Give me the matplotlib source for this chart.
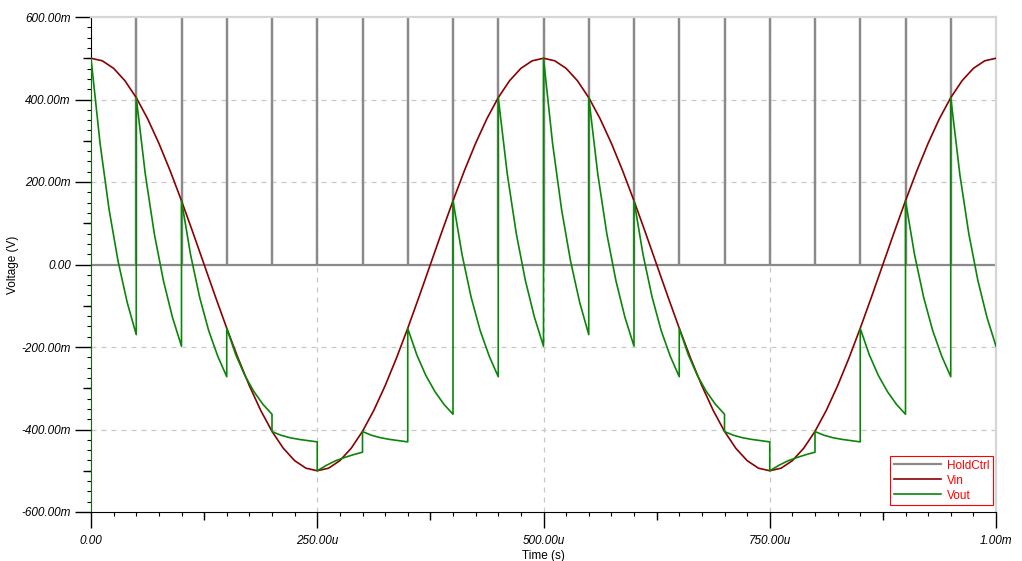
import matplotlib
import matplotlib.pyplot as plt
from matplotlib.ticker import FixedLocator

matplotlib.use("Agg")

plt.rcParams["font.family"] = ["Liberation Sans", "DejaVu Sans"]

# Input sine, sampled every 12.5 us from 0 to 1 ms (V)
vin_step = 12.5e-6
vin = [
    0.5000, 0.4938, 0.4755, 0.4455, 0.4045, 0.3536, 0.2939, 0.2270, 0.1545, 0.0782,
    0.0000, -0.0782, -0.1545, -0.2270, -0.2939, -0.3536, -0.4045, -0.4455, -0.4755, -0.4938,
    -0.5000, -0.4938, -0.4755, -0.4455, -0.4045, -0.3536, -0.2939, -0.2270, -0.1545, -0.0782,
    0.0000, 0.0782, 0.1545, 0.2270, 0.2939, 0.3536, 0.4045, 0.4455, 0.4755, 0.4938,
    0.5000, 0.4938, 0.4755, 0.4455, 0.4045, 0.3536, 0.2939, 0.2270, 0.1545, 0.0782,
    0.0000, -0.0782, -0.1545, -0.2270, -0.2939, -0.3536, -0.4045, -0.4455, -0.4755, -0.4938,
    -0.5000, -0.4938, -0.4755, -0.4455, -0.4045, -0.3536, -0.2939, -0.2270, -0.1545, -0.0782,
    0.0000, 0.0782, 0.1545, 0.2270, 0.2939, 0.3536, 0.4045, 0.4455, 0.4755, 0.4938,
    0.5000,
]

# Hold pulses (narrow, far above the plotted range)
hold_times = [50e-6 * k for k in range(1, 20)]
hold_high = 5.0

# Output: one decaying segment per 50 us hold period, points every 10 us
vout_start = -0.6
vout_period = 50e-6
vout_step = 10e-6
vout_segments = [
    [0.500, 0.294, 0.133, 0.007, -0.092, -0.170],
    [0.405, 0.219, 0.074, -0.039, -0.128, -0.198],
    [0.155, 0.024, -0.079, -0.160, -0.222, -0.272],
    [-0.155, -0.219, -0.269, -0.308, -0.339, -0.363],
    [-0.405, -0.414, -0.420, -0.424, -0.427, -0.430],
    [-0.500, -0.487, -0.476, -0.468, -0.461, -0.455],
    [-0.405, -0.414, -0.420, -0.424, -0.427, -0.430],
    [-0.155, -0.219, -0.269, -0.308, -0.339, -0.363],
    [0.155, 0.024, -0.079, -0.160, -0.222, -0.272],
    [0.405, 0.219, 0.074, -0.039, -0.128, -0.198],
    [0.500, 0.294, 0.133, 0.007, -0.092, -0.170],
    [0.405, 0.219, 0.074, -0.039, -0.128, -0.198],
    [0.155, 0.024, -0.079, -0.160, -0.222, -0.272],
    [-0.155, -0.219, -0.269, -0.308, -0.339, -0.363],
    [-0.405, -0.414, -0.420, -0.424, -0.427, -0.430],
    [-0.500, -0.487, -0.476, -0.468, -0.461, -0.455],
    [-0.405, -0.414, -0.420, -0.424, -0.427, -0.430],
    [-0.155, -0.219, -0.269, -0.308, -0.339, -0.363],
    [0.155, 0.024, -0.079, -0.160, -0.222, -0.272],
    [0.405, 0.219, 0.074, -0.039, -0.128, -0.198],
]

x_ticks = [0.0, 250e-6, 500e-6, 750e-6, 1e-3]
x_labels = ["0.00", "250.00u", "500.00u", "750.00u", "1.00m"]
y_ticks = [0.6, 0.4, 0.2, 0.0, -0.2, -0.4, -0.6]
y_labels = ["600.00m", "400.00m", "200.00m", "0.00", "-200.00m", "-400.00m", "-600.00m"]

# build plotted series
vin_t = [i * vin_step for i in range(len(vin))]

hold_t, hold_v = [0.0], [0.0]
for p in hold_times:
    hold_t += [p, p, p]
    hold_v += [0.0, hold_high, 0.0]
hold_t.append(1e-3)
hold_v.append(0.0)

vout_t, vout_v = [0.0], [vout_start]
for i, seg in enumerate(vout_segments):
    for j, v in enumerate(seg):
        vout_t.append(i * vout_period + j * vout_step)
        vout_v.append(v)

fig = plt.figure(figsize=(10.22, 5.61), dpi=100)
ax = fig.add_axes([91 / 1022, 49 / 561, 905 / 1022, 495 / 561])
ax.set_xlim(0, 1e-3)
ax.set_ylim(-0.6, 0.6)

ax.plot(hold_t, hold_v, color="#8a8a8a", linewidth=1.6, label="HoldCtrl", zorder=2)
ax.plot(vin_t, vin, color="#8b0000", linewidth=1.2, label="Vin", zorder=3)
ax.plot(vout_t, vout_v, color="#0a850a", linewidth=1.2, label="Vout", zorder=4)

# grid only on the inner major lines
for gx in x_ticks[1:-1]:
    ax.axvline(gx, color="#c8c8c8", linewidth=0.9, linestyle=(0, (4, 4)), zorder=1)
for gy in y_ticks[1:-1]:
    if gy != 0.0:
        ax.axhline(gy, color="#c8c8c8", linewidth=0.9, linestyle=(0, (4, 4)), zorder=1)

ax.set_xticks(x_ticks)
ax.set_xticklabels(x_labels, fontsize=8.5, style="italic")
ax.set_yticks(y_ticks)
ax.set_yticklabels(y_labels, fontsize=8.5, style="italic")
ax.xaxis.set_minor_locator(FixedLocator([25e-6 * k for k in range(41)]))
ax.yaxis.set_minor_locator(FixedLocator([-0.6 + 0.025 * k for k in range(49)]))
ax.tick_params(which="major", length=11.5, width=1, direction="out", pad=3)
ax.tick_params(axis="x", which="major", pad=5)
ax.tick_params(which="minor", length=3, width=0.8, direction="out")

# medium ticks at the half-way marks
secx = ax.secondary_xaxis("bottom")
secx.set_xticks([125e-6, 375e-6, 625e-6, 875e-6])
secx.set_xticklabels([])
secx.tick_params(length=6, width=1)
secx.spines["bottom"].set_visible(False)
secy = ax.secondary_yaxis("left")
secy.set_yticks([0.5, 0.3, 0.1, -0.1, -0.3, -0.5])
secy.set_yticklabels([])
secy.tick_params(length=5.5, width=1)
secy.spines["left"].set_visible(False)

for side in ("top", "right"):
    ax.spines[side].set_color("#d6d6d6")
    ax.spines[side].set_linewidth(1.6)

ax.set_xlabel("Time (s)", fontsize=8.5, labelpad=2)
ax.set_ylabel("Voltage (V)", fontsize=8.5, labelpad=2)

leg = ax.legend(
    loc="lower right",
    bbox_to_anchor=(0.9967, 0.014),
    fontsize=8.5,
    labelcolor="red",
    frameon=True,
    fancybox=False,
    edgecolor="red",
    framealpha=1,
    borderaxespad=0,
    borderpad=0.3,
    handlelength=4.0,
    handletextpad=0.5,
    labelspacing=0.25,
)
leg.get_frame().set_linewidth(0.8)

fig.savefig("out.png", dpi=100)
plt.close(fig)
